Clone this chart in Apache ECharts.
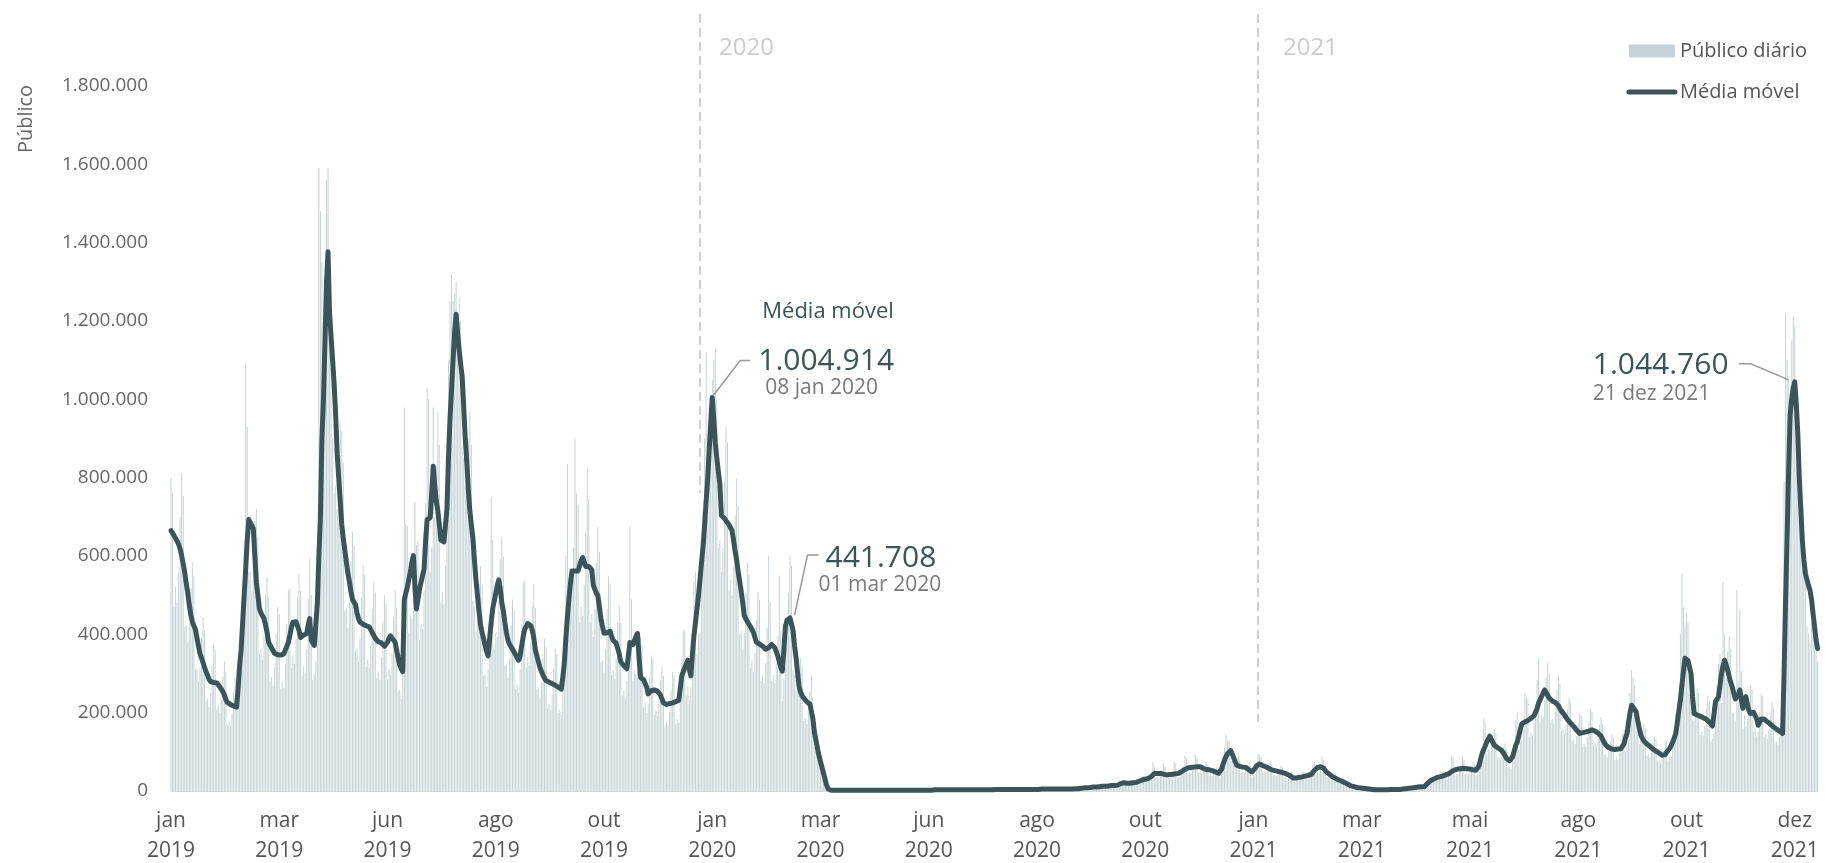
<!DOCTYPE html>
<html><head><meta charset="utf-8">
<script src="https://cdn.jsdelivr.net/npm/echarts@6/dist/echarts.min.js"></script>
<style>html,body{margin:0;padding:0;background:#fff}#c{width:1826px;height:863px}</style>
</head><body><div id="c"></div>
<script>
// ---- data (values in thousands of spectators) ----
const startDate = '2019-01-19';
const monthLabels = ['jan','mar','jun','ago','out','jan','mar','jun','ago','out','jan','mar','mai','ago','out','dez'];
const yearLabels  = ['2019','2019','2019','2019','2019','2020','2020','2020','2020','2020','2021','2021','2021','2021','2021','2021'];
const yearMarks = [{date:'2020-01-01', label:'2020', top:1984, bottom:761}, {date:'2021-01-01', label:'2021', top:1984, bottom:176}];
const annotations = [
  {date:'2020-01-09', value:1004.914, valueText:'1.004.914', dateText:'08 jan 2020', title:'Média móvel'},
  {date:'2020-03-01', value:441.708, valueText:'441.708', dateText:'01 mar 2020'},
  {date:'2021-12-19', value:1044.760, valueText:'1.044.760', dateText:'21 dez 2021'}
];

const dailyAudience = [
800,760,470,520,480,560,700,
811,754,419,424,379,428,518,
583,549,310,314,278,316,391,
443,411,229,236,214,251,319,
374,360,207,218,200,234,292,
331,303,170,178,166,197,250,
290,278,220,300,330,470,640,
1090,930,560,560,510,600,690,
720,650,349,364,335,397,501,
547,494,279,292,269,316,401,
470,451,260,278,263,324,426,
513,517,314,345,324,389,496,
554,510,293,318,300,362,489,
594,500,284,298,330,520,1590,
1480,1350,1180,1250,1560,1590,1300,
1080,900,760,780,720,820,940,
918,838,461,468,417,482,587,
662,627,357,364,330,388,492,
575,551,317,336,314,371,465,
536,507,289,305,284,340,430,
500,478,285,312,297,351,444,
513,468,254,258,234,400,980,
682,676,405,448,439,541,738,
628,637,386,426,413,510,736,
1030,1000,560,620,980,700,830,
967,884,481,509,477,576,828,
1100,1250,1320,1250,1270,1300,1150,
1260,1200,880,850,780,820,900,
967,884,485,472,405,450,529,
574,527,293,298,266,311,449,
750,640,364,404,394,485,592,
648,598,323,324,289,338,423,
489,462,261,272,251,311,426,
533,537,315,342,323,380,472,
527,468,259,264,236,275,340,
389,367,210,222,207,247,313,
365,348,199,210,195,261,377,
600,835,520,560,540,620,898,
759,731,431,470,447,527,659,
824,745,430,452,394,464,581,
674,611,330,336,302,362,465,
548,530,296,308,285,339,430,
473,429,244,256,237,281,358,
675,489,281,308,296,362,391,
392,372,213,226,199,223,290,
346,338,194,206,191,229,282,
317,293,165,177,167,201,258,
304,295,171,183,173,234,338,
412,410,244,267,233,265,403,
535,559,349,399,405,527,718,
900,1120,700,780,1000,1050,1100,
1130,1000,620,640,560,620,790,
930,890,510,538,499,576,704,
797,728,401,408,360,403,506,
585,554,315,334,304,353,437,
509,488,281,296,275,326,417,
600,481,281,296,275,326,397,
550,410,230,288,315,392,506,
599,575,308,296,255,270,305,
340,316,178,186,171,202,255,
297,240,113,104,83,81,86,
81,58,23,12,4,2,1,
3,3,1,2,1,2,2,
3,3,1,2,1,2,2,
3,3,1,2,1,2,2,
3,3,1,2,1,2,2,
3,3,1,2,1,2,2,
3,3,1,2,1,2,2,
3,3,1,2,1,2,2,
3,3,1,2,1,2,2,
3,3,1,2,1,2,2,
3,3,1,2,1,2,2,
4,4,2,2,2,3,3,
4,4,2,2,2,3,3,
4,4,2,2,2,3,3,
4,4,2,2,2,3,3,
4,4,2,2,2,3,3,
4,4,2,2,2,3,3,
5,5,3,3,3,4,5,
5,5,3,3,3,4,5,
5,5,3,3,3,4,5,
6,6,3,4,3,4,5,
6,6,3,4,3,4,5,
7,7,4,4,4,5,6,
7,7,4,4,4,5,7,
9,9,5,6,5,7,9,
12,13,7,8,7,9,12,
15,15,9,10,9,11,15,
18,18,11,11,11,14,19,
26,26,16,17,15,18,23,
27,27,16,18,17,22,30,
38,38,22,25,24,29,43,
75,62,34,36,34,41,51,
70,62,31,34,32,39,49,
75,70,34,36,35,45,60,
90,85,44,48,45,55,70,
92,85,47,50,45,52,64,
74,70,41,42,39,46,56,
63,59,32,44,51,110,143,
128,130,77,76,64,68,76,
96,82,47,49,45,54,66,
73,66,37,42,44,58,94,
93,87,49,50,47,54,67,
76,70,40,42,38,45,56,
65,61,35,36,32,37,45,
49,43,24,26,26,32,41,
49,48,29,31,30,38,49,
70,75,44,48,46,56,88,
78,69,36,36,32,35,41,
46,42,23,22,20,23,28,
28,25,13,12,10,11,13,
14,12,6,6,5,6,7,
8,7,4,3,3,4,4,
4,4,2,2,2,3,3,
4,5,3,3,3,4,5,
5,5,4,4,5,5,8,
9,10,6,7,7,9,12,
15,14,8,9,11,17,26,
35,36,23,26,26,32,41,
50,49,30,33,32,40,52,
90,85,41,44,42,51,66,
90,80,43,46,42,50,63,
75,70,40,42,52,75,110,
185,175,95,106,105,119,143,
158,148,83,86,80,94,112,
122,108,60,62,56,79,117,
180,200,105,126,129,157,250,
239,234,137,149,142,173,223,
283,339,175,194,188,232,289,
329,300,174,184,171,203,258,
294,273,153,160,146,169,209,
239,225,127,132,120,140,173,
198,192,112,120,113,137,176,
209,203,116,122,113,133,169,
189,172,93,94,86,100,125,
144,138,80,86,80,97,124,
147,156,101,118,131,250,309,
289,270,152,144,120,129,155,
173,160,90,94,86,99,123,
140,133,75,78,71,82,101,
126,129,78,87,87,113,156,
198,230,250,400,556,470,420,
455,430,246,240,180,178,225,
262,250,143,151,140,167,210,
244,229,128,133,146,205,269,
325,351,225,534,400,290,355,
394,361,200,200,176,513,282,
462,306,158,193,165,185,228,
267,260,151,162,139,151,202,
248,242,137,144,133,157,197,
227,213,121,126,117,138,173,
200,790,1219,1100,1050,1000,1150,
1210,1190,900,850,700,650,600,
620,560,420,400,380,430,450,
420,380,330
];

const movingAverage = [
665,661,652,645,638,630,618,601,580,558,
530,505,475,450,432,422,413,392,370,351,
340,328,316,305,295,285,279,277,277,277,
276,272,266,260,254,245,233,226,223,221,
219,217,215,214,260,320,360,430,500,567,
640,693,685,678,670,600,533,500,465,455,
447,441,436,405,380,372,365,358,351,349,
348,347,347,347,350,360,370,380,398,418,
431,432,432,431,410,392,390,398,400,402,
425,440,385,378,372,368,480,600,700,900,
1000,1150,1300,1377,1220,1160,1100,1040,960,860,
800,740,680,645,615,585,556,535,510,490,
482,476,455,440,431,428,426,424,422,420,
419,412,404,397,390,385,381,379,378,374,
370,368,380,390,396,390,386,380,360,339,
322,312,305,488,505,520,540,560,585,601,
520,465,490,515,533,550,567,640,693,695,
698,760,829,780,740,716,680,641,636,636,
640,720,852,950,1023,1100,1170,1217,1170,1126,
1090,1057,980,900,840,770,716,680,647,590,
540,500,460,425,405,390,372,355,345,390,
430,465,485,505,525,539,515,480,460,430,
405,385,375,368,362,355,348,340,334,345,
370,395,413,420,428,431,422,410,390,360,
345,330,315,305,296,288,282,280,278,276,
274,272,270,268,265,262,260,290,328,390,
445,490,530,562,562,562,562,562,575,588,
596,585,573,573,573,573,565,525,515,505,
499,470,440,420,403,402,404,406,408,395,
385,380,377,374,350,330,325,320,316,312,
311,379,376,374,385,395,402,340,290,286,
284,282,265,248,252,256,260,258,257,255,
254,245,235,225,220,221,222,223,224,225,
227,228,229,231,260,294,305,315,325,334,
310,294,350,396,430,465,499,540,585,624,
680,740,795,870,940,1004.914,950,890,850,815,
784,704,700,696,690,685,680,672,665,640,
612,590,560,535,510,480,448,440,433,426,
420,417,405,392,380,377,375,374,370,366,
362,363,366,370,374,370,366,362,345,330,
315,306,360,420,436,440,441.708,440,410,370,
340,300,265,252,243,237,232,228,224,222,
220,185,150,130,110,90,75,60,45,30,
15,5,2,2,2,2,2,2,2,2,
2,2,2,2,2,2,2,2,2,2,
2,2,2,2,2,2,2,2,2,2,
2,2,2,2,2,2,2,2,2,2,
2,2,2,2,2,2,2,2,2,2,
2,2,2,2,2,2,2,2,2,2,
2,2,2,2,2,2,2,2,2,2,
3,3,3,3,3,3,3,3,3,3,
3,3,3,3,3,3,3,3,3,3,
3,3,3,3,3,3,3,3,3,3,
3,3,3,3,3,3,3,3,3,3,
4,4,4,4,4,4,4,4,4,4,
4,4,4,4,4,4,4,4,4,4,
4,4,4,4,4,4,4,4,4,4,
5,5,5,5,5,5,5,5,5,5,
5,5,5,5,5,5,5,5,5,5,
5,5,5,6,6,6,7,7,7,8,
8,8,9,9,9,10,10,10,11,11,
11,12,12,12,13,13,13,14,14,14,
15,15,17,19,20,21,21,20,20,20,
20,21,21,22,23,25,26,28,29,30,
31,32,32,37,41,45,45,45,45,45,
44,43,42,41,42,42,43,43,44,44,
45,45,47,50,52,55,57,59,60,60,
61,61,62,62,62,62,60,58,56,55,
54,54,53,52,51,49,47,45,43,55,
68,79,88,95,100,103,95,85,75,66,
64,63,62,61,60,60,57,54,51,49,
52,58,64,69,69,67,65,63,62,60,
58,56,54,53,52,51,50,49,48,47,
46,45,43,41,39,36,33,32,33,34,
35,36,36,37,38,39,40,42,43,48,
53,58,60,61,62,62,58,53,48,45,
42,39,36,34,32,30,28,26,25,24,
21,19,17,15,13,12,11,10,9,8,
8,7,7,6,6,5,5,4,4,4,
3,3,3,3,3,3,3,3,3,4,
4,4,4,4,4,4,4,5,5,6,
6,7,7,8,8,9,9,10,10,11,
11,11,11,15,19,23,26,28,30,32,
34,35,36,37,38,40,41,42,44,45,
50,53,54,55,56,57,57,58,58,57,
57,56,56,55,54,53,53,52,65,82,
96,106,115,125,133,140,132,124,117,114,
111,108,106,104,97,90,83,80,77,75,
88,102,116,125,140,157,172,174,176,177,
180,183,186,189,192,194,210,224,233,242,
250,258,251,244,237,232,230,228,226,224,
218,210,204,200,194,188,182,177,173,169,
165,160,155,150,147,148,149,150,151,152,
153,155,156,155,153,150,148,147,140,132,
124,118,114,111,109,107,106,106,107,107,
108,108,109,120,135,147,175,200,219,214,
208,202,180,160,143,135,128,123,120,117,
114,110,107,104,102,100,97,94,91,88,
93,99,104,109,116,125,136,147,175,205,
232,270,305,339,337,333,328,300,240,198,
196,194,192,191,189,187,185,183,181,176,
171,166,195,228,234,241,270,300,320,334,
322,309,292,278,266,250,235,232,245,258,
235,211,225,241,220,205,198,200,201,202,
185,168,176,184,186,183,180,177,174,171,
168,164,161,158,156,153,150,147,300,488,
650,820,960,1000,1030,1044.760,990,913,800,720,
640,590,555,540,525,513,490,454,420,385,364
];

// ---- build categories (one per day) ----
const dates = [];
(function(){
  const d0 = new Date(startDate + 'T00:00:00Z');
  for (let i = 0; i < dailyAudience.length; i++) {
    const d = new Date(d0.getTime() + i * 86400000);
    dates.push(d.toISOString().slice(0,10));
  }
})();
const LABEL_STEP = 71;

const FONT = "'Open Sans', 'Noto Sans', sans-serif";
const LINE_COLOR = '#3b5459';
const BAR_COLOR = '#c5d3d7';
const fmt = v => String(Math.round(v)).replace(/\B(?=(\d{3})+(?!\d))/g, '.');

const chart = echarts.init(document.getElementById('c'), null, {renderer:'canvas'});
const option = {
  animation: false,
  backgroundColor: '#fff',
  grid: {left: 171, right: 8.4, top: 7.7, bottom: 72, containLabel: false, outerBoundsMode: 'none'},
  legend: {
    orient: 'vertical', right: 14, top: 34, itemWidth: 46, itemHeight: 13, itemGap: 17,
    textStyle: {color: '#555', fontSize: 20, fontFamily: FONT, lineHeight: 24},
    lineStyle: {width: 5, cap: 'round'},
    data: [{name: 'Público diário', icon: 'rect'}, {name: 'Média móvel', itemStyle: {opacity: 0}}]
  },
  xAxis: {
    type: 'category', data: dates, boundaryGap: false,
    axisLine: {lineStyle: {color: '#d9d9d9', width: 1}},
    axisTick: {show: false},
    axisLabel: {
      interval: (i) => i % LABEL_STEP === 0,
      formatter: (v, i) => { const k = Math.round(i / LABEL_STEP); return monthLabels[k] + '\n' + yearLabels[k]; },
      color: '#555', fontFamily: FONT, fontSize: 21, lineHeight: 30, margin: 15
    },
    splitLine: {show: false}
  },
  yAxis: {
    type: 'value', min: 0, max: 2000, interval: 200,
    axisLine: {show: false}, axisTick: {show: false}, splitLine: {show: false},
    axisLabel: {formatter: v => v >= 2000 ? '' : fmt(v * 1000), color: '#666', fontFamily: FONT, fontSize: 19, margin: 23}
  },
  series: [
    {
      name: 'Público diário', type: 'bar', data: dailyAudience, barWidth: 1,
      itemStyle: {color: BAR_COLOR}, z: 2,
      markLine: {
        silent: true, symbol: 'none', label: {show: false},
        lineStyle: {color: '#cfcfcf', width: 2, type: [9, 5]},
        data: yearMarks.map(m => [{coord: [m.date, m.top]}, {coord: [m.date, m.bottom]}])
      }
    },
    {
      name: 'Média móvel', type: 'line', data: movingAverage, symbol: 'none', showSymbol: false,
      lineStyle: {color: LINE_COLOR, width: 5, cap: 'round', join: 'round'},
      itemStyle: {color: LINE_COLOR}, z: 3
    }
  ]
};
chart.setOption(option);

// ---- annotations anchored to data points ----
const px = (cat, val) => chart.convertToPixel({gridIndex: 0}, [cat, val]);
const txt = (x, y, text, size, color, align, extra) => Object.assign({
  type: 'text', x: x, y: y, silent: true, z: 100,
  style: {text: text, fill: color, font: size + 'px ' + FONT, align: align || 'left', verticalAlign: 'middle',
          textAlign: align || 'left', textVerticalAlign: 'middle'}
}, extra || {});
const g = [];
// year labels
yearMarks.forEach((m, i) => {
  const p = px(m.date, m.top);
  g.push(txt(p[0] + (i === 0 ? 19 : 25), 48, m.label, 24, '#cccccc'));
});
// y axis title
g.push(txt(26, 119, 'Público', 20, '#666', 'center', {rotation: Math.PI / 2}));
// peak annotations
const conn = (pts) => ({type: 'polyline', silent: true, z: 99, shape: {points: pts}, style: {stroke: '#9a9a9a', lineWidth: 1.5, fill: null}});
{
  const a = annotations[0], p = px(a.date, a.value);
  g.push(conn([[p[0] + 1, p[1] - 2], [p[0] + 28, p[1] - 37], [p[0] + 38, p[1] - 37]]));
  g.push(txt(p[0] + 50, p[1] - 86, a.title, 22, LINE_COLOR));
  g.push(txt(p[0] + 46, p[1] - 36, a.valueText, 30, LINE_COLOR));
  g.push(txt(p[0] + 53, p[1] - 9, a.dateText, 21, '#7a7a7a'));
}
{
  const a = annotations[1], p = px(a.date, a.value);
  g.push(conn([[p[0] + 3, p[1] - 3], [p[0] + 16, p[1] - 63], [p[0] + 27, p[1] - 63]]));
  g.push(txt(p[0] + 34, p[1] - 60, a.valueText, 30, LINE_COLOR));
  g.push(txt(p[0] + 27, p[1] - 33, a.dateText, 21, '#7a7a7a'));
}
{
  const a = annotations[2], p = px(a.date, a.value);
  g.push(conn([[p[0] - 6, p[1] - 2], [p[0] - 44, p[1] - 18], [p[0] - 56, p[1] - 18]]));
  g.push(txt(p[0] - 202, p[1] - 16, a.valueText, 30, LINE_COLOR));
  g.push(txt(p[0] - 202, p[1] + 12, a.dateText, 21, '#7a7a7a'));
}
chart.setOption({graphic: g});
</script>
</body></html>
